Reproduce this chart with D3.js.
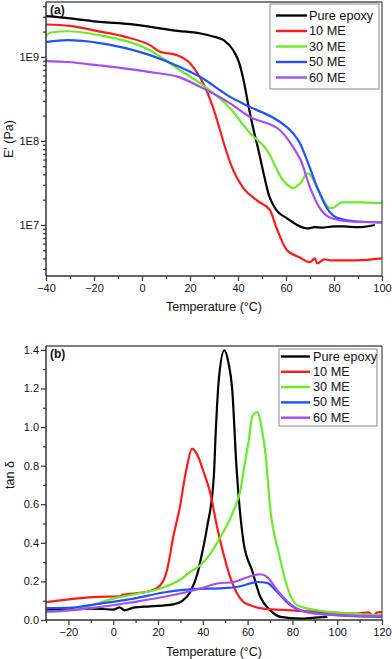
<!DOCTYPE html>
<html><head><meta charset="utf-8">
<script src="https://cdn.jsdelivr.net/npm/d3@7"></script>
<style>
body{margin:0;background:#fff;}
svg{display:block;font-family:"Liberation Sans",Arial,sans-serif;}
</style></head><body>
<svg id="c" width="392" height="659"></svg>
<script>
// ---------- DATA ----------
const seriesNames = ["Pure epoxy", "10 ME", "30 ME", "50 ME", "60 ME"];
const seriesColors = ["#000000", "#ff1a1a", "#66ee22", "#2050ff", "#a64cf0"];

// Panel (a): storage modulus E' (Pa) vs temperature (°C)
const modEpoxy = [[-40,3.05e9],[-30,2.88e9],[-17.5,2.61e9],[-5,2.45e9],[3.3,2.28e9],[15,2.04e9],[24,1.91e9],[30,1.74e9],[34,1.58e9],[38,1.2e9],[40.5,8.5e8],[42.5,5.0e8],[44.5,2.5e8],[46.5,1.35e8],[48,9.0e7],[50,5.0e7],[53,2.2e7],[56,1.5e7],[60.4,1.2e7],[64.6,1.0e7],[68.75,9.1e6],[72,9.4e6],[75,9.3e6],[80,9.6e6],[84,9.6e6],[90,9.4e6],[97,1.0e7]];
const mod10 = [[-40,2.43e9],[-30,2.34e9],[-17.5,2.0e9],[-7,1.73e9],[3.3,1.38e9],[7.5,1.15e9],[14.5,1.05e9],[20,8.4e8],[24,5.8e8],[25.4,4.9e8],[29.6,2.5e8],[32.5,1.35e8],[34.6,8.4e7],[38,4.5e7],[42,2.8e7],[48,1.95e7],[53.3,1.5e7],[56,9.3e6],[60.4,5.0e6],[65.8,4.1e6],[70,3.6e6],[72,4.0e6],[73,3.5e6],[76,3.9e6],[78.3,3.8e6],[89.6,3.8e6],[100,4.0e6]];
const mod30 = [[-40,1.78e9],[-38,1.95e9],[-31,2.02e9],[-17.5,1.81e9],[3.3,1.2e9],[15.8,6.95e8],[24.2,4.86e8],[36.7,2.45e8],[45,1.24e8],[52,7.8e7],[58.75,3.4e7],[63,2.75e7],[65.8,3.1e7],[69,4.1e7],[70.8,3.7e7],[74,2.4e7],[78.3,1.6e7],[79.6,1.6e7],[83.3,1.86e7],[89.6,1.86e7],[100,1.82e7]];
const mod50 = [[-40,1.5e9],[-31,1.58e9],[-17.5,1.46e9],[3.3,1.05e9],[15.8,7.6e8],[24.2,5.8e8],[36.7,3.34e8],[45,2.54e8],[57.5,1.68e8],[62.9,1.24e8],[65.8,9.4e7],[68.75,5.9e7],[73,2.8e7],[77,1.6e7],[81,1.23e7],[89.6,1.1e7],[100,1.07e7]];
const mod60 = [[-40,8.9e8],[-31,8.7e8],[-17.5,7.9e8],[3.3,6.6e8],[15.8,5.7e8],[24.2,4.4e8],[36.7,2.8e8],[45,1.93e8],[57.5,1.34e8],[62.9,8.5e7],[66,6.0e7],[70,2.8e7],[74,1.6e7],[78.3,1.23e7],[86.7,1.1e7],[100,1.07e7]];

// Panel (b): tan delta vs temperature (°C)
const tanEpoxy = [[-30,0.05],[-20,0.055],[-13.4,0.059],[-5,0.057],[0,0.054],[3,0.065],[5,0.05],[9,0.064],[16.5,0.071],[26.8,0.081],[30.7,0.098],[34.4,0.145],[38,0.257],[39,0.31],[41.9,0.48],[44.9,0.74],[45.8,0.98],[47.1,1.24],[49.6,1.397],[51.5,1.33],[53.1,1.2],[55,0.8],[58.3,0.396],[62,0.257],[65.7,0.119],[70.2,0.05],[74.7,0.016],[83.6,0.007],[90,0.012],[95.6,0.016]];
const tan10 = [[-30,0.093],[-20.7,0.106],[-9,0.119],[3,0.123],[4,0.13],[10,0.138],[16.5,0.15],[21,0.18],[24,0.257],[26.8,0.43],[30,0.6],[31.5,0.707],[33,0.8],[35.2,0.888],[38,0.845],[40,0.78],[43.4,0.655],[46.4,0.48],[49.2,0.345],[52,0.23],[55.3,0.137],[58,0.095],[61.3,0.076],[67.1,0.059],[79.2,0.05],[94,0.041],[109,0.033],[114,0.04],[116,0.022],[118,0.04],[120,0.041]];
const tan30 = [[-30,0.041],[-20,0.05],[-10,0.075],[0,0.111],[10,0.135],[21,0.163],[30,0.21],[34.4,0.25],[39,0.285],[43.4,0.344],[47.9,0.43],[53.8,0.568],[56.8,0.672],[59,0.83],[60.5,0.93],[62,1.05],[64.3,1.078],[66.5,0.98],[68,0.86],[70.2,0.568],[74,0.344],[77.7,0.171],[82.2,0.076],[91.1,0.05],[103,0.036],[120,0.024]];
const tan50 = [[-30,0.062],[-20,0.063],[-5.8,0.085],[9,0.111],[24,0.145],[35,0.16],[49.3,0.165],[56.8,0.175],[64.3,0.197],[68.7,0.192],[73.2,0.145],[79.2,0.076],[86.6,0.041],[101.5,0.024],[120,0.016]];
const tan60 = [[-30,0.045],[-20,0.05],[-5.8,0.067],[9,0.093],[24,0.123],[39,0.163],[46.4,0.189],[53.8,0.197],[62.8,0.232],[65.7,0.237],[68.7,0.223],[73.2,0.154],[79.2,0.081],[86.6,0.041],[101.5,0.024],[120,0.02]];

const xTicksA = [-40,-20,0,20,40,60,80,100];
const yTicksA = [1e7,1e8,1e9];
const yTickLabelsA = ["1E7","1E8","1E9"];
const xTicksB = [-20,0,20,40,60,80,100,120];
const yTicksB = [0.0,0.2,0.4,0.6,0.8,1.0,1.2,1.4];

// ---------- DRAW ----------
const svg = d3.select("#c");
const axisColor = "#333";

function panel(opt){
  const g = svg.append("g");
  const {x, y, L, R, T, B} = opt;
  const line = d3.line().x(d=>x(d[0])).y(d=>y(d[1])).curve(d3.curveMonotoneX);
  opt.series.forEach((s,i)=>{
    g.append("path").datum(s).attr("d",line).attr("fill","none")
      .attr("stroke",seriesColors[i]).attr("stroke-width",2.2).attr("stroke-linejoin","round");
  });
  g.append("line").attr("x1",L).attr("x2",R).attr("y1",T).attr("y2",T).attr("stroke","#555").attr("stroke-width",1.3);
  g.append("line").attr("x1",R).attr("x2",R).attr("y1",T).attr("y2",B).attr("stroke","#555").attr("stroke-width",1.3);
  const xa = g.append("g").attr("transform",`translate(0,${B})`)
    .call(d3.axisBottom(x).tickValues(opt.xTicks).tickSize(5).tickFormat(d3.format("d")));
  g.append("g").attr("transform",`translate(0,${B})`)
    .call(d3.axisBottom(x).tickValues(opt.xMinor).tickSize(3).tickFormat(""))
    .call(a=>a.select(".domain").remove());
  const ya = g.append("g").attr("transform",`translate(${L},0)`)
    .call(d3.axisLeft(y).tickValues(opt.yTicks).tickSize(5).tickFormat((d,i)=>opt.yLabels[i]));
  g.append("g").attr("transform",`translate(${L},0)`)
    .call(d3.axisLeft(y).tickValues(opt.yMinor).tickSize(3).tickFormat(""))
    .call(a=>a.select(".domain").remove());
  g.selectAll(".domain").attr("stroke",axisColor).attr("stroke-width",1.5);
  g.selectAll(".tick line").attr("stroke",axisColor).attr("stroke-width",1.2);
  xa.selectAll("text").attr("font-size",11).attr("fill","#111").attr("dy","0.95em").attr("y",6);
  ya.selectAll("text").attr("font-size",11).attr("fill","#111").attr("x",-7);
  xa.select(".domain").attr("d",`M${L},0H${R}`);
  ya.select(".domain").attr("d",`M0,${B}V${T}`);
  g.append("text").attr("x",214).attr("y",opt.xTitleY).attr("text-anchor","middle")
    .attr("font-size",12.5).attr("fill","#111").text("Temperature (°C)");
  g.append("text").attr("transform",`translate(${opt.yTitleX},${opt.yTitleY}) rotate(-90)`)
    .attr("text-anchor","middle").attr("dominant-baseline","central")
    .attr("font-size",12.5).attr("fill","#111").text(opt.yTitle);
  g.append("text").attr("x",L+4).attr("y",T+12).attr("font-size",12).attr("font-weight","bold")
    .attr("fill","#111").text(opt.tag);
  const lg = opt.legend;
  g.append("rect").attr("x",lg.x).attr("y",lg.y).attr("width",lg.w).attr("height",lg.h)
    .attr("fill","#fff").attr("stroke","#888").attr("stroke-width",1);
  seriesNames.forEach((n,i)=>{
    const yy = lg.y + lg.first + i*lg.step;
    g.append("line").attr("x1",lg.x+lg.l1).attr("x2",lg.x+lg.l2).attr("y1",yy).attr("y2",yy)
      .attr("stroke",seriesColors[i]).attr("stroke-width",2.4);
    g.append("text").attr("x",lg.x+lg.tx).attr("y",yy).attr("dominant-baseline","central")
      .attr("font-size",12.7).attr("fill","#111").text(n);
  });
}

// Panel (a)
{
  const L=46,R=382,T=2,B=276;
  const x = d3.scaleLinear().domain([-40,100]).range([L,R]);
  const y = d3.scaleLog().domain([2.47e6,4.5e9]).range([B,T]);
  const yMinor = [];
  [1e6,1e7,1e8,1e9].forEach(dec=>{ for(let k=2;k<=9;k++){ const v=k*dec; if(v>=2.47e6 && v<=4.5e9) yMinor.push(v);} });
  panel({x,y,L,R,T,B,
    series:[modEpoxy,mod10,mod30,mod50,mod60],
    xTicks:xTicksA, xMinor:[-30,-10,10,30,50,70,90],
    yTicks:yTicksA, yLabels:yTickLabelsA, yMinor,
    xTitleY:311, yTitle:"E' (Pa)", yTitleX:9, yTitleY:139, tag:"(a)",
    legend:{x:270,y:4,w:109,h:85,first:11.5,step:15.5,l1:6,l2:37,tx:39}
  });
}
// Panel (b)
{
  const L=46,R=382,T=346,B=620;
  const x = d3.scaleLinear().domain([-30,120]).range([L,R]);
  const y = d3.scaleLinear().domain([0,1.42]).range([B,T]);
  const yMinor = [0.1,0.3,0.5,0.7,0.9,1.1,1.3];
  panel({x,y,L,R,T,B,
    series:[tanEpoxy,tan10,tan30,tan50,tan60],
    xTicks:xTicksB, xMinor:[-30,-10,10,30,50,70,90,110],
    yTicks:yTicksB, yLabels:yTicksB.map(d=>d.toFixed(1)), yMinor,
    xTitleY:656, yTitle:"tan δ", yTitleX:10, yTitleY:475, tag:"(b)",
    legend:{x:279,y:349,w:98,h:77,first:7.5,step:15.3,l1:2,l2:31,tx:34}
  });
}
</script></body></html>
